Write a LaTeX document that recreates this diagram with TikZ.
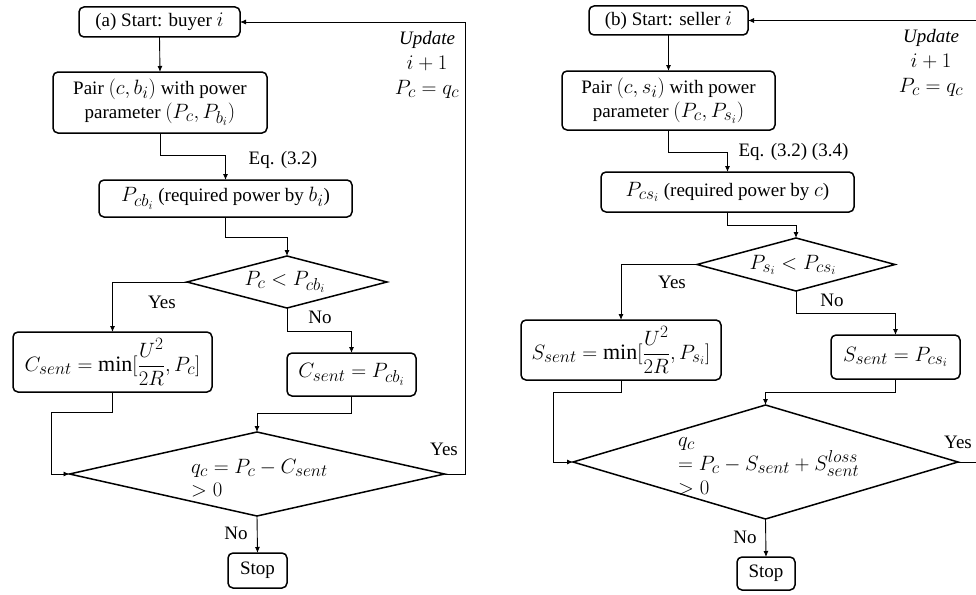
\documentclass[tikz,border=0pt]{standalone}
\usepackage{amsmath}
\usepackage{fontspec}
\setmainfont{Liberation Serif}
\usetikzlibrary{shapes.geometric,arrows.meta}
% math set a little larger than the 19pt text
\DeclareMathSizes{19}{22}{16}{12}

\tikzset{
  box/.style={draw, line width=1.5pt, rounded corners=5pt, inner sep=0pt, outer sep=0pt, align=center},
  dia/.style={draw, diamond, line width=1.5pt, inner sep=0pt, outer sep=0pt},
  conn/.style={line width=0.9pt},
  arr/.style={conn, -{Latex[length=6pt,width=5pt]}},
  lbl/.style={inner sep=0pt, align=center},
}

\begin{document}
\begin{tikzpicture}[x=1pt, y=-1pt, font=\rmfamily\fontsize{19}{24}\selectfont]
\clip (0,0) rectangle (976,594);

% ---------------- (a) buyer loop ----------------
\node[box, minimum width=161, minimum height=30] (startA) at (159.5,22) {(a) Start: buyer $i$};
\node[box, minimum width=214, minimum height=61] (pairA) at (160,102.5) {Pair $(c,b_i)$ with power\\parameter $(P_c,P_{b_i})$};
\node[box, minimum width=253, minimum height=37] (pcbA) at (225.5,198.5) {$P_{cb_i}$ (required power by $b_i$)};
\node[dia, minimum width=200, minimum height=52] (dA1) at (287,282) {};
\node[lbl] (dA1t) at (285,282) {$P_c < P_{cb_i}$};
\node[box, minimum width=199, minimum height=60] (cminA) at (112.5,362) {$C_{sent} = \min[\dfrac{U^2}{2R}, P_c]$};
\node[box, minimum width=129, minimum height=43] (ceqA) at (351.5,374.5) {$C_{sent} = P_{cb_i}$};
\node[dia, minimum width=375, minimum height=84] (dA2) at (257,474) {};
\node[lbl, align=left, anchor=west, font=\rmfamily\fontsize{19}{23}\selectfont] (dA2t) at (191,478) {$q_c = P_c - C_{sent}$\\$> 0$};
\node[box, minimum width=59, minimum height=35] (stopA) at (257.5,570.5) {Stop};

\node[lbl] (eqA) at (283,160) {Eq. (3.2)};
\node[lbl] (yesA1) at (162,302) {Yes};
\node[lbl] (noA1) at (320,317) {No};
\node[lbl] (yesA2) at (444,449) {Yes};
\node[lbl] (noA2) at (236,533) {No};
\node[lbl, font=\rmfamily\fontsize{19}{25}\selectfont] (updA) at (427,65) {\textit{Update}\\$i+1$\\$P_c = q_c$};

\draw[arr] (startA.south) -- (pairA.north);
\draw[arr] (pairA.south) -- ++(0,22) -| (pcbA.north);
\draw[arr] (pcbA.south) -- ++(0,20) -| (dA1.north);
\draw[arr] (dA1.west) -| (cminA.north);
\draw[arr] (dA1.south) -- ++(0,23) -| (ceqA.north);
\draw[arr] (cminA.south) -- ++(0,20) -- ++(-61,0) |- (dA2.west);
\draw[arr] (ceqA.south) -- ++(0,17) -| (dA2.north);
\draw[arr] (dA2.south) -- (stopA.north);
\draw[arr] (dA2.east) -- ++(20.5,0) |- (startA.east);

% ---------------- (b) seller loop ----------------
\node[box, minimum width=159, minimum height=29] (startB) at (668.5,20.5) {(b) Start: seller $i$};
\node[box, minimum width=213, minimum height=59] (pairB) at (668.5,100.5) {Pair $(c,s_i)$ with power\\parameter $(P_c,P_{s_i})$};
\node[box, minimum width=253, minimum height=40] (pcsB) at (727.5,192) {$P_{cs_i}$ (required power by $c$)};
\node[dia, minimum width=198, minimum height=53] (dB1) at (796,264.5) {};
\node[lbl] (dB1t) at (793,265) {$P_{s_i} < P_{cs_i}$};
\node[box, minimum width=200, minimum height=60] (sminB) at (621,350) {$S_{sent} = \min[\dfrac{U^2}{2R}, P_{s_i}]$};
\node[box, minimum width=129, minimum height=44] (seqB) at (895.5,357) {$S_{sent} = P_{cs_i}$};
\node[dia, minimum width=385, minimum height=114] (dB2) at (765.5,462) {};
\node[lbl, align=left, anchor=west, font=\rmfamily\fontsize{19}{24}\selectfont] (dB2t) at (678,466) {$q_c$\\$= P_c - S_{sent} + S^{loss}_{sent}$\\$> 0$};
\node[box, minimum width=58, minimum height=33] (stopB) at (766,573.5) {Stop};

\node[lbl] (eqB) at (793.5,152) {Eq. (3.2) (3.4)};
\node[lbl] (yesB1) at (672,282) {Yes};
\node[lbl] (noB1) at (832,300) {No};
\node[lbl] (yesB2) at (958,442) {Yes};
\node[lbl] (noB2) at (745,537) {No};
\node[lbl, font=\rmfamily\fontsize{19}{25}\selectfont] (updB) at (931,63) {\textit{Update}\\$i+1$\\$P_c = q_c$};

\draw[arr] (startB.south) -- (pairB.north);
\draw[arr] (pairB.south) -- ++(0,22) -| (pcsB.north);
\draw[arr] (pcsB.south) -- ++(0,13) -| (dB1.north);
\draw[arr] (dB1.west) -| (sminB.north);
\draw[arr] (dB1.south) -- ++(0,22) -| (seqB.north);
\draw[arr] (sminB.south) -- ++(0,12) -- ++(-68,0) |- (dB2.west);
\draw[arr] (seqB.south) -- ++(0,13) -| (dB2.north);
\draw[arr] (dB2.south) -- (stopB.north);
\draw[arr] (dB2.east) -- ++(30,0) |- (startB.east);
\end{tikzpicture}
\end{document}
